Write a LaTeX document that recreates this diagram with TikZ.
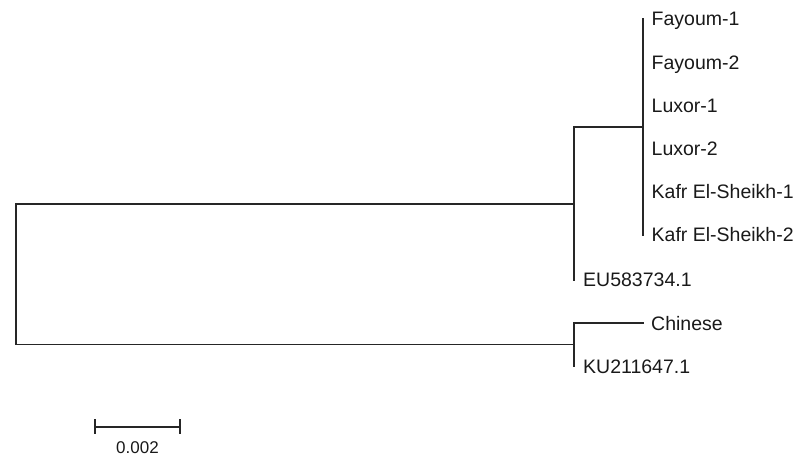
\documentclass[tikz,border=0pt]{standalone}
\usepackage{fontspec}
\setmainfont{Liberation Sans}
\begin{document}
\begin{tikzpicture}[x=1pt,y=-1pt,
  branch/.style={line width=1.7pt, draw=black!85, line cap=rect},
  leaf/.style={anchor=base west, inner sep=0pt, font=\fontsize{19.5}{20}\selectfont, text=black!90},
  scalelbl/.style={anchor=base, inner sep=0pt, font=\fontsize{17}{18}\selectfont, text=black!90}]
\useasboundingbox (0,0) rectangle (798,457);
% internal nodes
\coordinate (root) at (16,274);
\coordinate (up) at (574,204);
\coordinate (inner) at (643,127);
\coordinate (low) at (574,344.5);
% leaves
\coordinate (f1) at (643,19);
\coordinate (f2) at (643,62.2);
\coordinate (l1) at (643,105.4);
\coordinate (l2) at (643,148.6);
\coordinate (k1) at (643,191.8);
\coordinate (k2) at (643,235);
\coordinate (eu) at (574,280);
\coordinate (ch) at (643,323);
\coordinate (ku) at (574,366);
% labels
\node[leaf] (tf1) at ([xshift=8.5pt,yshift=-7pt]f1) {Fayoum-1};
\node[leaf] (tf2) at ([xshift=8.5pt,yshift=-7pt]f2) {Fayoum-2};
\node[leaf] (tl1) at ([xshift=8.5pt,yshift=-7pt]l1) {Luxor-1};
\node[leaf] (tl2) at ([xshift=8.5pt,yshift=-7pt]l2) {Luxor-2};
\node[leaf] (tk1) at ([xshift=8.5pt,yshift=-7pt]k1) {Kafr El-Sheikh-1};
\node[leaf] (tk2) at ([xshift=8.5pt,yshift=-7pt]k2) {Kafr El-Sheikh-2};
\node[leaf] (teu) at ([xshift=9pt,yshift=-7pt]eu) {EU583734.1};
\node[leaf] (tch) at ([xshift=8pt,yshift=-7pt]ch) {Chinese};
\node[leaf] (tku) at ([xshift=9pt,yshift=-7pt]ku) {KU211647.1};
% tree branches
\draw[branch] (up) -- (root |- up) -- (root |- low) -- (low);
\draw[branch] (up |- inner) -- (inner);
\draw[branch] (up |- inner) -- (eu);
\draw[branch] (f1) -- (k2);
\draw[branch] (ch) -- (low |- ch) -- (ku);
% scale bar
\coordinate (sa) at (95,427);
\coordinate (sb) at (180,427);
\draw[branch, line cap=butt] (sa) -- (sb);
\draw[branch, line cap=butt] ([yshift=8pt]sa) -- ([yshift=-7pt]sa);
\draw[branch, line cap=butt] ([yshift=8pt]sb) -- ([yshift=-7pt]sb);
\node[scalelbl] (slab) at (137.5,453) {0.002};
\end{tikzpicture}
\end{document}
